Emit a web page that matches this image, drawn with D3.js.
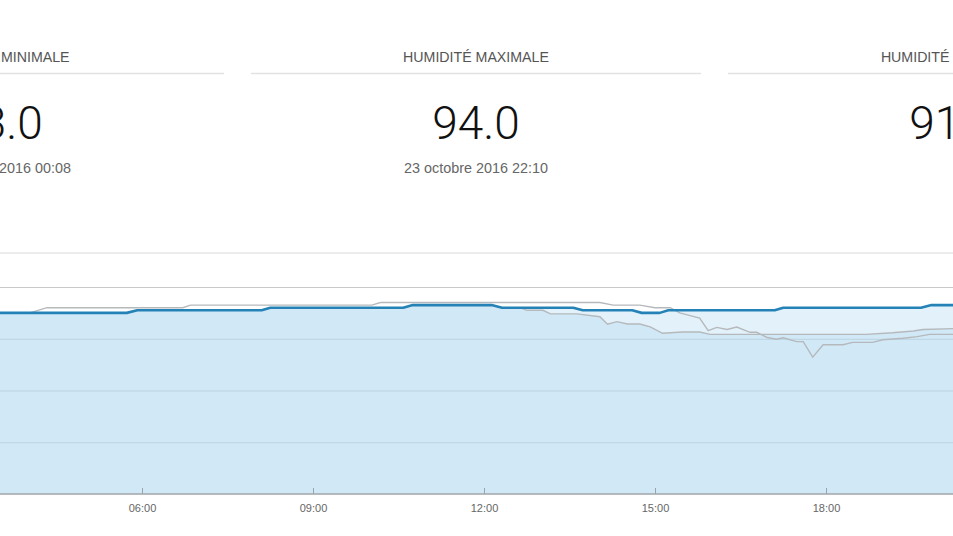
<!DOCTYPE html>
<html><head><meta charset="utf-8">
<script src="https://cdn.jsdelivr.net/npm/d3@7"></script>
<style>
body{margin:0;background:#fff;overflow:hidden;}
svg{display:block;}
</style>
</head><body>
<svg id="c" width="953" height="536"></svg>
<script>
// ---- data ----
const panelTitles = ["HUMIDITÉ MINIMALE", "HUMIDITÉ MAXIMALE", "HUMIDITÉ MOYENNE"];
const panelValues = ["83.0", "94.0", "91.3"];
const panelDates  = ["23 octobre 2016 00:08", "23 octobre 2016 22:10", ""];

const day = "2016-10-23";
const timeTicks = ["06:00", "09:00", "12:00", "15:00", "18:00", "21:00"];
const gridValues = [40, 60, 80, 100];

// main series (blue)
const humidity = [
  ["03:20",90],["05:44",90],["05:55",91],["08:06",91],["08:15",92],["10:35",92],
  ["10:45",93],["12:08",93],["12:19",92],["13:34",92],["13:44",91],["14:36",91],
  ["14:46",90],["15:05",90],["15:14",91],["17:06",91],["17:15",92],["19:40",92],
  ["19:51",93],["20:25",93]
];
// comparison series A (grey, with dip)
const compareA = [
  ["03:20",90],["04:02",90],["04:20",92],["06:43",92],["06:51",93],["10:02",93],
  ["10:11",94],["14:02",94],["14:16",93],["14:44",93],["15:00",92],["15:16",92],
  ["15:26",90],["15:47",88],["15:56",83.1],["16:05",84.4],["16:16",83.6],["16:26",84.5],
  ["16:40",82.5],["16:47",82.5],["16:58",80.5],["17:08",79.8],["17:15",80.4],["17:29",78.9],
  ["17:36",78.9],["17:46",72.9],["17:57",77.7],["18:18",77.7],["18:28",78.6],["18:49",78.6],
  ["19:00",79.6],["19:21",80.2],["19:36",80.8],["19:49",81.7],["20:25",81.7]
];
// comparison series B (grey, filled)
const compareB = [
  ["03:20",90],["05:44",90],["05:55",91],["08:06",91],["08:15",92],["10:35",92],
  ["10:45",93],["12:08",93],["12:19",92],["12:38",92],["12:45",91],["13:02",91],
  ["13:10",89.6],["13:38",89.6],["14:02",88.5],["14:10",85.6],["14:20",86.6],["14:31",85.7],
  ["14:44",85.7],["14:55",84.6],["15:08",82.1],["15:29",82.6],["15:47",82.6],["15:58",81.7],
  ["18:42",81.7],["19:10",82.3],["19:32",83.0],["19:42",83.6],["20:25",84.0]
];

// ---- layout ----
const W = 953, H = 536;
const parse = d3.timeParse("%Y-%m-%d %H:%M");
const toPts = arr => arr.map(d => ({t: parse(day + " " + d[0]), v: d[1]}));

const svg = d3.select("#c");
const font = "'Liberation Sans', Arial, sans-serif";

// header panels
const panelCenter0 = -1, panelStep = 477, panelHalf = 225;
panelTitles.forEach((t, i) => {
  const cx = panelCenter0 + i * panelStep;
  const g = svg.append("g");
  g.append("text").attr("x", cx).attr("y", 62).attr("text-anchor", "middle")
    .attr("font-family", font).attr("font-size", 14.2).attr("fill", "#555").text(t);
  g.append("line").attr("x1", cx - panelHalf).attr("x2", cx + panelHalf)
    .attr("y1", 73.5).attr("y2", 73.5).attr("stroke", "#e2e2e2").attr("stroke-width", 1.5);
  g.append("text").attr("x", cx).attr("y", 139).attr("text-anchor", "middle")
    .attr("font-family", "Roboto, 'Liberation Sans', sans-serif").attr("font-weight", 300)
    .attr("font-size", 46).attr("fill", "#111").text(panelValues[i]);
  g.append("text").attr("x", cx).attr("y", 172.5).attr("text-anchor", "middle")
    .attr("font-family", font).attr("font-size", 14.4).attr("fill", "#666").text(panelDates[i]);
});

// chart scales
const plotTop = 253, plotBottom = 494;
const x = d3.scaleTime()
  .domain([parse(day + " 00:00"), parse("2016-10-24 00:00")])
  .range([-200, -200 + 57 * 24]);
const y = d3.scaleLinear().domain([20, 100]).range([plotBottom, 287]);

// top border
svg.append("line").attr("x1", 0).attr("x2", W).attr("y1", plotTop).attr("y2", plotTop)
  .attr("stroke", "#e6e6e6").attr("stroke-width", 1.5);

// grid lines (under the semi-transparent areas)
svg.append("g").selectAll("line").data(gridValues).join("line")
  .attr("x1", 0).attr("x2", W)
  .attr("y1", d => y(d) + 0.5).attr("y2", d => y(d) + 0.5)
  .attr("stroke", "#c9c9c9").attr("stroke-width", 1);

const area = d3.area().x(d => x(d.t)).y0(plotBottom).y1(d => y(d.v));
const line = d3.line().x(d => x(d.t)).y(d => y(d.v));

const hum = toPts(humidity), A = toPts(compareA), B = toPts(compareB);

svg.append("path").datum(hum).attr("d", area)
  .attr("fill", "rgb(178,215,240)").attr("fill-opacity", 0.36);
svg.append("path").datum(B).attr("d", area)
  .attr("fill", "rgb(178,215,240)").attr("fill-opacity", 0.36);

svg.append("path").datum(A).attr("d", line)
  .attr("fill", "none").attr("stroke", "#b5b9bc").attr("stroke-width", 1.4);
svg.append("path").datum(B).attr("d", line)
  .attr("fill", "none").attr("stroke", "#b5b9bc").attr("stroke-width", 1.4);

svg.append("path").datum(hum).attr("d", line)
  .attr("fill", "none").attr("stroke", "#2582b7").attr("stroke-width", 2.6)
  .attr("stroke-linejoin", "round");

// x axis
const tickDates = timeTicks.map(s => parse(day + " " + s));
const axis = d3.axisBottom(x).tickValues(tickDates)
  .tickFormat(d3.timeFormat("%H:%M")).tickSizeInner(-6).tickSizeOuter(0).tickPadding(10);
const gx = svg.append("g").attr("transform", `translate(0,${plotBottom})`).call(axis);
gx.select(".domain").remove();
gx.selectAll(".tick line").attr("stroke", "#9aa3aa").attr("stroke-width", 1);
gx.selectAll(".tick text").attr("font-family", font).attr("font-size", 11).attr("fill", "#666");
svg.append("line").attr("x1", 0).attr("x2", W).attr("y1", plotBottom).attr("y2", plotBottom)
  .attr("stroke", "#a2a6a9").attr("stroke-width", 1.6);
</script>
</body></html>
